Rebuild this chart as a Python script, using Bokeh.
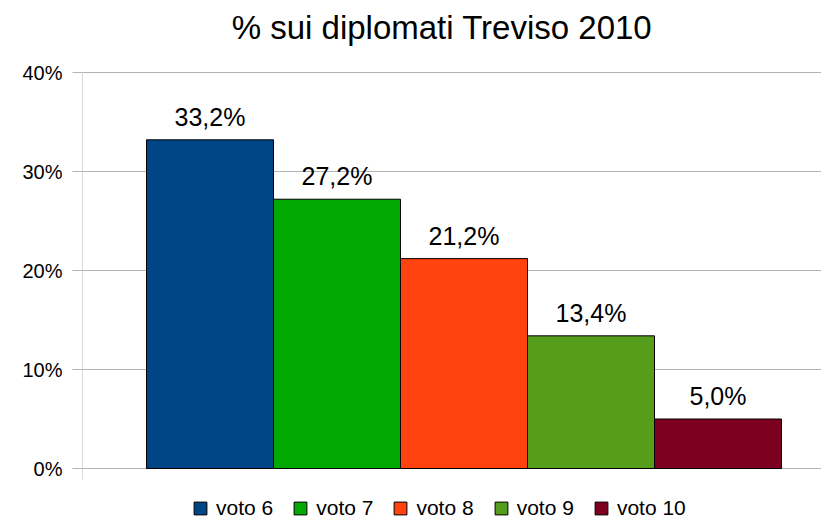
from bokeh.plotting import figure
from bokeh.models import (Range1d, FixedTicker, Legend, LegendItem, ColumnDataSource,
                          LinearAxis, Grid)
from bokeh.core.properties import value
from bokeh.embed import file_html
from bokeh.resources import INLINE

# ---- data ----
series = ["voto 6", "voto 7", "voto 8", "voto 9", "voto 10"]
values = [33.2, 27.2, 21.2, 13.4, 5.0]
colors = ["#004586", "#00a800", "#ff420e", "#579d1c", "#7e0021"]
y_ticks = [0, 10, 20, 30, 40]
y_tick_labels = ["0%", "10%", "20%", "30%", "40%"]
title_text = "% sui diplomati Treviso 2010"

FONT = "Liberation Sans"
GRID = "#b3b3b3"

# layout (pixels)
W, H = 821, 524
LEFT = 82
TOP = 72                     # pixel row of the 40% line
PLOT_H = 396                 # 0%..40%
PX_Y = PLOT_H / 40.0
BAR_PX = 127
GAP_PX = 64
TITLE_CX, TITLE_BASE = 441.5, 40

y_start = -(H - TOP - PLOT_H) / PX_Y      # room for the legend inside the frame
y_end = 40 + TOP / PX_Y                   # room for the title inside the frame
x_start = -GAP_PX / BAR_PX
x_end = x_start + (W - LEFT) / BAR_PX

xs = [i + 0.5 for i in range(len(series))]
labels = [f"{v:.1f}%".replace(".", ",") for v in values]

p = figure(width=W, height=H, output_backend="svg", toolbar_location=None,
           x_range=Range1d(x_start, x_end), y_range=Range1d(y_start, y_end),
           min_border_left=LEFT, min_border_right=0, min_border_top=0, min_border_bottom=0,
           x_axis_location=None, y_axis_location=None)
p.outline_line_color = None
p.background_fill_color = "white"
p.border_fill_color = "white"
for g in list(p.center):
    if isinstance(g, Grid):
        g.visible = False

yaxis = LinearAxis(ticker=FixedTicker(ticks=y_ticks),
                   major_label_overrides={t: l for t, l in zip(y_ticks, y_tick_labels)},
                   axis_line_color=None, major_tick_line_color=GRID,
                   major_tick_out=10, major_tick_in=0, minor_tick_line_color=None,
                   major_label_text_font=FONT, major_label_text_font_size="20px",
                   major_label_text_color="black", major_label_standoff=10)
p.add_layout(yaxis, "left")
p.add_layout(Grid(dimension=1, ticker=yaxis.ticker, grid_line_color=GRID))

# y axis line, extended below zero by the x-axis boundary tick
p.segment(x0=[x_start], y0=[-11 / PX_Y], x1=[x_start], y1=[40],
          line_color=GRID, line_width=1)

items = []
for i, (s, v, c) in enumerate(zip(series, values, colors)):
    src = ColumnDataSource(dict(x=[xs[i]], top=[v]))
    r = p.vbar(x="x", top="top", bottom=0, width=1, source=src, fill_color=c,
               line_color="black", line_width=1)
    items.append(LegendItem(label=s, renderers=[r]))

lsrc = ColumnDataSource(dict(x=xs, y=values, t=labels))
p.text(x="x", y="y", text="t", source=lsrc, text_align="center",
       text_baseline="alphabetic", y_offset=-23, text_font=value(FONT),
       text_font_size="25px", text_color="black")

# title
tsrc = ColumnDataSource(dict(x=[x_start + (TITLE_CX - LEFT) / BAR_PX],
                             y=[40 + (TOP - TITLE_BASE) / PX_Y], t=[title_text]))
p.text(x="x", y="y", text="t", source=tsrc, text_align="center",
       text_baseline="alphabetic", y_offset=-13, text_font=value(FONT),
       text_font_size="33px", text_color="black")

legend = Legend(items=items, orientation="horizontal", location=(110, 4),
                glyph_width=16, glyph_height=16, label_standoff=8, spacing=19,
                padding=0, margin=0, border_line_color=None, background_fill_alpha=0,
                label_text_font=FONT, label_text_font_size="21px", label_text_color="black")
p.add_layout(legend, "center")

open("out.html", "w").write(file_html(p, INLINE))
